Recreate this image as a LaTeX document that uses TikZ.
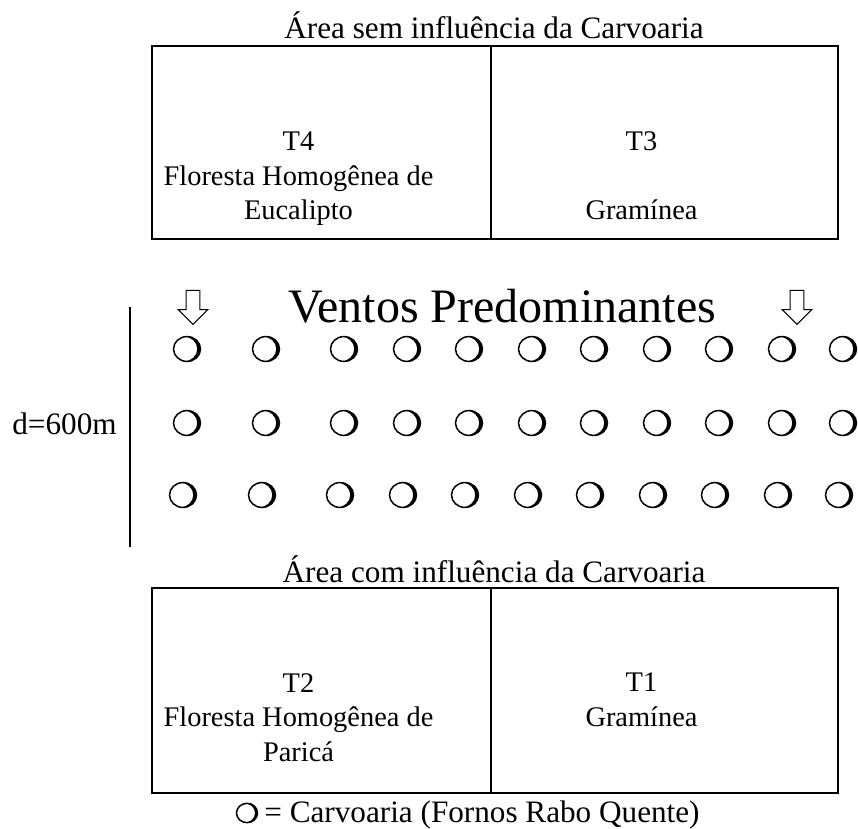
\documentclass[tikz,border=0pt]{standalone}
\usepackage{fontspec}
\setmainfont{Liberation Serif}
\usetikzlibrary{shapes,positioning}

\tikzset{
  celula/.style={draw, line width=1.2pt, inner sep=0pt, outer sep=0pt, minimum height=#1},
  texto/.style={align=center, inner sep=0pt, font=\fontsize{14.2pt}{17.25pt}\selectfont},
  titulo/.style={inner sep=0pt, font=\fontsize{15.6pt}{18pt}\selectfont},
  forno/.style={ellipse, draw, line width=0.75pt, inner sep=0pt, outer sep=0pt,
    minimum width=#1, minimum height=0.92*#1,
    path picture={\fill[even odd rule] (path picture bounding box.south west) rectangle (path picture bounding box.north east)
      ([xshift=-0.12*#1]path picture bounding box.center) ellipse ({0.5*#1} and {0.46*#1});}},
  forno/.default=13.5pt,
  seta/.style={single arrow, draw, line width=0.5pt, shape border rotate=270, inner sep=3.2pt,
    minimum width=14.5pt, minimum height=17pt, single arrow head extend=4pt}
}

\begin{document}
\begin{tikzpicture}[x=0.5pt, y=-0.5pt]
    \useasboundingbox (0,0) rectangle (858,829);

    % area sem influencia
    \node[titulo, anchor=base] (tit1) at (494,39) {Área sem influência da Carvoaria};
    \node[celula=96.5pt, minimum width=169.5pt] (t4) at (321.5,142.5) {};
    \node[celula=96.5pt, minimum width=173.5pt, right=0pt of t4] (t3) {};
    \node[texto, anchor=base] (t4txt) at ([xshift=-11.5pt, yshift=-87pt]t4.north) {T4\\Floresta Homogênea de\\Eucalipto};
    \node[texto, anchor=base] (t3txt) at ([xshift=-11.5pt, yshift=-87pt]t3.north) {T3\\\mbox{}\\Gramínea};

    % ventos
    \node[seta] (sL) at (193,304) {};
    \node[seta] (sR) at (797,304) {};
    \node[anchor=base, inner sep=0pt, font=\fontsize{24pt}{28pt}\selectfont] (ventos) at (502,322) {Ventos Predominantes};

    % fornos
    \foreach \y/\dx [count=\r] in {349/0, 423/0, 495/-4}
      \foreach \x [count=\c] in {187,266,344,407,469,532,594,657,719,782,843}
        \node[forno] (f\r-\c) at (\x+\dx,\y) {};

    % distancia
    \coordinate (dtop) at (130,307);
    \coordinate (dbot) at (130,547);
    \draw[line width=1pt] (dtop) -- (dbot);
    \node[titulo, anchor=base] (dist) at (64.5,434) {d=600m};

    % area com influencia
    \node[titulo, anchor=base] (tit2) at (494,582) {Área com influência da Carvoaria};
    \node[celula=102.5pt, minimum width=169.5pt] (t2) at (321.5,690.5) {};
    \node[celula=102.5pt, minimum width=173.5pt, right=0pt of t2] (t1) {};
    \node[texto, anchor=base] (t2txt) at ([xshift=-11.5pt, yshift=-86.5pt]t2.north) {T2\\Floresta Homogênea de\\Paricá};
    \node[texto, anchor=base] (t1txt) at ([xshift=-11.5pt, yshift=-69pt]t1.north) {T1\\Gramínea};

    % legenda
    \node[forno=10.5pt] (leg) at (247,813) {};
    \node[titulo, anchor=base west] (legtxt) at (264,822) {= Carvoaria (Fornos Rabo Quente)};
\end{tikzpicture}
\end{document}
